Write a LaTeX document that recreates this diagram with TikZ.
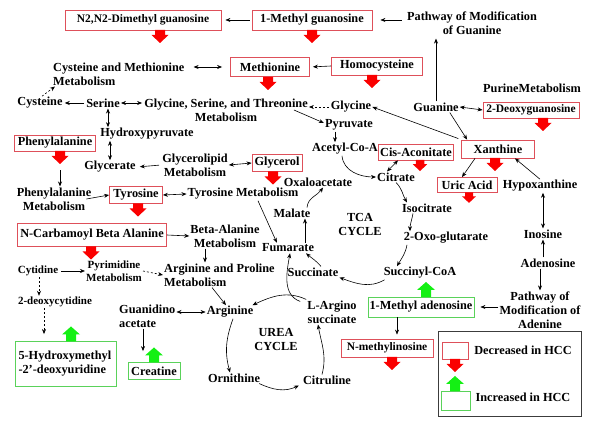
\documentclass[tikz,border=0pt]{standalone}
\usepackage{fontspec}
\setmainfont{Liberation Serif}
\usetikzlibrary{arrows.meta}
\definecolor{boxred}{RGB}{222,80,90}
\definecolor{boxgreen}{RGB}{90,210,90}
\definecolor{arrred}{RGB}{250,0,0}
\definecolor{arrgreen}{RGB}{20,240,20}
\definecolor{legframe}{RGB}{60,60,60}
\tikzset{
  downarr/.pic={\fill[arrred] (-5,0) -- (5,0) -- (5,5) -- (8.5,5) -- (0,13) -- (-8.5,5) -- (-5,5) -- cycle;},
  uparr/.pic={\fill[arrgreen] (-5,0) -- (5,0) -- (5,-7) -- (9,-7) -- (0,-15) -- (-9,-7) -- (-5,-7) -- cycle;},
}
\begin{document}
\begin{tikzpicture}[x=1pt,y=-1pt,
  every node/.style={font=\bfseries\fontsize{12.3}{14}\selectfont, inner sep=1pt},
  sm/.style={font=\bfseries\fontsize{11}{13}\selectfont},
  smb/.style={font=\bfseries\fontsize{11.5}{13}\selectfont},
  dec/.style={draw=boxred, line width=0.8pt, inner sep=0pt},
  inc/.style={draw=boxgreen, line width=0.8pt, inner sep=0pt},
  arr/.style={-{Stealth[length=5pt,width=4pt]}, line width=0.6pt},
  darr/.style={{Stealth[length=5pt,width=4pt]}-{Stealth[length=5pt,width=4pt]}, line width=0.6pt},
  dsh/.style={dash pattern=on 2pt off 2pt}
]
\useasboundingbox (0,0) rectangle (600,427);

% ---------- nodes ----------
\node[dec, smb, minimum width=156, minimum height=20] (n2) at (143,20) {N2,N2-Dimethyl guanosine};
\node[dec, minimum width=120, minimum height=20] (mg1) at (312,20) {1-Methyl guanosine};
\node[align=center] (pmg) at (472,23) {Pathway of Modification\\of Guanine};
\node[anchor=west, align=left] (cmm) at (52,74) {Cysteine and Methionine\\Metabolism};
\node[dec, minimum width=79, minimum height=19] (meth) at (270,67) {Methionine};
\node[dec, minimum width=91, minimum height=18] (homo) at (377,66) {Homocysteine};
\node (cys) at (40,103) {Cysteine};
\node (ser) at (103,103) {Serine};
\node[align=center] (gst) at (226,110) {Glycine, Serine, and Threonine\\Metabolism};
\node (gly) at (351,107) {Glycine};
\node (pyr) at (349,125) {Pyruvate};
\node (guan) at (436,107) {Guanine};
\node (pur) at (532,88) {PurineMetabolism};
\node[dec, smb, minimum width=96, minimum height=16] (dgua) at (531,110) {2-Deoxyguanosine};
\node[dec, minimum width=75, minimum height=16] (cis) at (416,152) {Cis-Aconitate};
\node[dec, minimum width=73, minimum height=18] (xan) at (498,149) {Xanthine};
\node[dec, minimum width=60, minimum height=15] (uric) at (467,185) {Uric Acid};
\node (hyp) at (540,186) {Hypoxanthine};
\node (acc) at (345,149) {Acetyl-Co-A};
\node (cit) at (396,177) {Citrate};
\node[dec, minimum width=81, minimum height=16] (phe) at (55,143) {Phenylalanine};
\node (hyd) at (147,134) {Hydroxypyruvate};
\node (glyc) at (110,167) {Glycerate};
\node[align=center] (glm) at (195,165) {Glycerolipid\\Metabolism};
\node[dec, minimum width=50, minimum height=17] (glycerol) at (277,163) {Glycerol};
\node (oxa) at (318,182) {Oxaloacetate};
\node[align=center] (pam) at (54,199) {Phenylalanine\\Metabolism};
\node[dec, minimum width=53, minimum height=17] (tyr) at (136,195) {Tyrosine};
\node (tym) at (243,194) {Tyrosine Metabolism};
\node (mal) at (292,213) {Malate};
\node (iso) at (427,208) {Isocitrate};
\node[align=center] (tca) at (360,224) {TCA\\CYCLE};
\node (oxg) at (446,238) {2-Oxo-glutarate};
\node (ino) at (543,234) {Inosine};
\node[dec, minimum width=149, minimum height=23] (nca) at (92,235) {N-Carbamoyl Beta Alanine};
\node[align=center] (bam) at (225,236) {Beta-Alanine\\Metabolism};
\node (fum) at (288,248) {Fumarate};
\node (ade) at (548,263) {Adenosine};
\node[sm] (cyt) at (38,271) {Cytidine};
\node[sm, align=center] (pym) at (114,271) {Pyrimidine\\Metabolism};
\node[anchor=west, align=left] (apm) at (163,275) {Arginine and Proline\\Metabolism};
\node (suc) at (313,272) {Succinate};
\node (sca) at (420,273) {Succinyl-CoA};
\node[sm] (dcy) at (55,302) {2-deoxycytidine};
\node[anchor=west, align=left] (gac) at (118,316) {Guanidino\\acetate};
\node (arg) at (230,312) {Arginine};
\node[align=center] (las) at (332,312) {L-Argino\\succinate};
\node[inc, minimum width=106, minimum height=20] (m1a) at (421,307) {1-Methyl adenosine};
\node[align=center] (pma) at (540,310) {Pathway of\\Modification of\\Adenine};
\node[align=center] (urea) at (276,340) {UREA\\CYCLE};
\node[dec, smb, minimum width=92, minimum height=18] (nmi) at (387,348) {N-methylinosine};
\node[inc, minimum width=101, minimum height=45, align=left, text width=95] (hm) at (66,364) {5-Hydroxymethyl\\-2'-deoxyuridine};
\node[inc, minimum width=52, minimum height=17] (cre) at (154,371) {Creatine};
\node (orn) at (234,378) {Ornithine};
\node (citr) at (327,380) {Citruline};

% legend
\node[draw=legframe, line width=0.8pt, minimum width=143, minimum height=85, inner sep=0pt] (leg) at (509.5,373.5) {};
\node[dec, minimum width=26, minimum height=17] (legd) at (455,350.5) {};
\node[inc, minimum width=29, minimum height=19] (legi) at (455.5,400.5) {};
\node (legdt) at (523,350) {Decreased in HCC};
\node (legit) at (523,397) {Increased in HCC};

% ---------- block arrows ----------
\pic at (160,30) {downarr};
\pic at (312,30) {downarr};
\pic at (268,77) {downarr};
\pic at (372,75) {downarr};
\pic at (543,118) {downarr};
\pic at (60,151) {downarr};
\pic at (273,171.5) {downarr};
\pic at (138,203.5) {downarr};
\pic at (91,246.5) {downarr};
\pic[scale=0.85] at (420,160) {downarr};
\pic at (495,158) {downarr};
\pic[scale=0.8] at (469,192.5) {downarr};
\pic at (392,357) {downarr};
\pic at (455,359) {downarr};
\pic at (426,297) {uparr};
\pic at (71,341.5) {uparr};
\pic at (154,362.5) {uparr};
\pic at (455,391) {uparr};

% ---------- connectors ----------
\draw[arr, shorten <=2pt, shorten >=4pt] (mg1.west) -- (n2.east);
\draw[arr, shorten <=4pt, shorten >=8pt] (pmg.west |- mg1.east) -- (mg1.east);
\draw[darr, shorten <=8pt, shorten >=8pt] (cmm.east |- meth.west) -- (meth.west);
\draw[arr, shorten >=3pt] (homo.west) -- (meth.east);
\draw[arr, dsh] ([xshift=2pt]cys.north) -- ([xshift=3pt]cmm.south west);
\draw[arr, shorten <=1pt, shorten >=1pt] (ser.west) -- (cys.east);
\draw[darr, shorten >=1pt] (ser.east) -- (gst.west |- ser.east);
\draw[darr] ([xshift=5pt]ser.south) -- ([xshift=5pt]ser.south |- hyd.north);
\draw[darr] (glyc.north |- hyd.south) -- (glyc.north);
\draw[arr, dsh, shorten <=1pt] (gly.west) -- (gst.east |- gly.west);
\draw[arr] ([xshift=-15pt]gst.east) -- ([yshift=2pt]pyr.west);
\draw[arr] ([xshift=-14pt]pyr.south) -- ([xshift=-14pt]pyr.south |- acc.north);
\draw[arr, shorten <=3pt] (xan.north west) -- (gly.east);
\draw[arr] ([xshift=-10pt]guan.south east) -- ([xshift=6pt]xan.north west);
\draw[arr, shorten >=3pt] (guan.north) -- (guan.north |- pmg.south);
\draw[darr] (guan.east) -- (dgua.west);
\draw[arr, shorten <=2pt, shorten >=3pt] (glm.west) -- (glyc.east);
\draw[darr] (glm.east) -- (glycerol.west);
\draw[arr, shorten <=19pt] ([xshift=5pt]phe.south) -- ([xshift=5pt]phe.south |- pam.north);
\draw[arr] ([xshift=-6pt]pam.east) -- (tyr.west);
\draw[darr] (tyr.east) -- (tym.west);
\draw[arr] ([xshift=15pt]tym.south) -- ([xshift=16pt]fum.north west);
\draw[arr] (nca.east) -- (bam.west);
\draw[arr] ([xshift=-20pt]bam.south) -- ([xshift=-20pt]bam.south |- apm.north);
\draw[arr] ([xshift=49pt]apm.south west) -- ([xshift=-4pt]arg.north);
\draw[arr, shorten <=2pt] (cyt.east) -- (pym.west);
\draw[arr, dsh] (pym.east) -- (apm.west);
\draw[arr, dsh] ([xshift=1pt]cyt.south) -- ([xshift=1pt]cyt.south |- dcy.north);
\draw[arr, dsh, shorten >=7pt] ([xshift=-11pt]dcy.south) -- ([xshift=-11pt]dcy.south |- hm.north);
\draw[darr] (gac.east |- arg.west) -- (arg.west);
\draw[arr, shorten >=11pt] ([xshift=25pt]gac.south west) -- ([xshift=25pt]gac.south west |- cre.north);

% TCA cycle
\draw[arr] ([xshift=-3pt]acc.south) to[out=-85,in=180] (cit.west);
\draw[darr] ([xshift=-9pt]cit.north) -- ([xshift=-18pt]cis.south);
\draw[arr] (cit.south) to[out=-45,in=120] ([xshift=-20pt]iso.north);
\draw[arr] ([xshift=-14pt]iso.south) to[out=-100,in=90] ([xshift=-36pt]oxg.north);
\draw[arr] ([xshift=-39pt]oxg.south) to[out=-100,in=60] ([xshift=-23pt]sca.north);
\draw[arr] ([xshift=2pt]sca.south west) to[out=-150,in=-20] (suc.south east);
\draw[arr] ([xshift=8pt]suc.north) to[out=130,in=-40] ([xshift=18pt]fum.south);
\draw[arr] ([xshift=17pt]fum.north) -- ([xshift=13pt]mal.south);
\draw[arr] ([xshift=15pt]mal.north) to[out=85,in=-125] ([xshift=5pt]oxa.south);

% Urea cycle
\draw[arr] ([xshift=-6pt,yshift=-2pt]las.north west) to[out=160,in=-100] ([xshift=2pt]fum.south);
\draw[arr] (las.north west) to[out=155,in=25] ([xshift=-2pt]arg.north east);
\draw[arr] ([xshift=3pt]arg.south) to[out=-110,in=105] ([xshift=-4pt]orn.north);
\draw[arr] ([xshift=-2pt]orn.south east) to[out=-25,in=-155] ([xshift=-3pt]citr.south west);
\draw[arr] ([xshift=-5pt]citr.north) to[out=75,in=-80] ([xshift=-14pt]las.south);

% purine side
\draw[arr] ([xshift=-23pt]xan.south) -- ([xshift=-5pt]uric.north);
\draw[arr] (hyp.north) -- ([xshift=17pt]xan.south);
\draw[darr] (ino.north |- hyp.south) -- (ino.north);
\draw[arr] (ino.south |- ade.north) -- (ino.south);
\draw[arr] (pma.north |- ade.south) -- (pma.north);
\draw[arr, shorten >=6pt] (pma.west |- m1a.east) -- (m1a.east);
\draw[arr, shorten >=4pt] ([xshift=-24pt]m1a.south) -- ([xshift=-24pt]m1a.south |- nmi.north);
\end{tikzpicture}
\end{document}
